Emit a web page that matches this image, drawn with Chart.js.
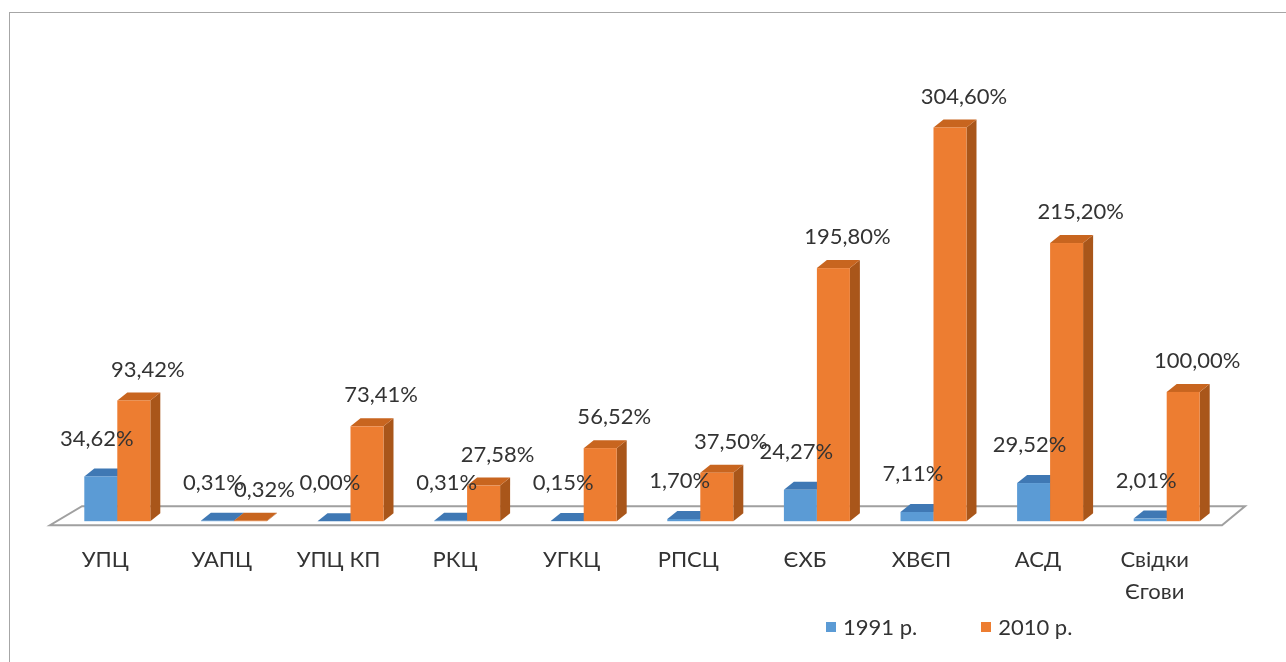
<!DOCTYPE html>
<html>
<head>
<meta charset="utf-8">
<script src="https://cdn.jsdelivr.net/npm/chart.js@4"></script>
<style>
  html, body { margin: 0; padding: 0; background: #fff; }
  #wrap { position: relative; width: 1286px; height: 662px; overflow: hidden; font-family: Lato, "Open Sans", sans-serif; }
  #frame { position: absolute; left: 9px; top: 12px; width: 1300px; height: 700px; border: 1px solid #a6a6a6; box-sizing: border-box; }
  #legend { position: absolute; left: 826px; top: 613px; display: flex; align-items: center; font-size: 22px; color: #333; }
  #legend span.box { display: inline-block; width: 10px; height: 10px; margin-right: 7px; }
  #legend span.item { display: inline-flex; align-items: center; margin-right: 64px; }
  canvas { position: absolute; left: 0; top: 0; }
</style>
</head>
<body>
<div id="wrap">
  <div id="frame"></div>
  <canvas id="c" width="1286" height="662"></canvas>
  <div id="legend"></div>
</div>
<script>
// дані
const categories = ['УПЦ', 'УАПЦ', 'УПЦ КП', 'РКЦ', 'УГКЦ', 'РПСЦ', 'ЄХБ', 'ХВЄП', 'АСД', ['Свідки', 'Єгови']];
const seriesNames = ['1991 р.', '2010 р.'];
const values1991 = [34.62, 0.31, 0.00, 0.31, 0.15, 1.70, 24.27, 7.11, 29.52, 2.01];
const values2010 = [93.42, 0.32, 73.41, 27.58, 56.52, 37.50, 195.80, 304.60, 215.20, 100.00];

const colors = {
  front: ['#5b9bd5', '#ed7d31'],
  top: ['#3f78b4', '#c8651f'],
  side: ['#3b6fa3', '#a9561a']
};

const fmt = v => v.toFixed(2).replace('.', ',') + '%';

// легенда
const legend = document.getElementById('legend');
seriesNames.forEach((n, i) => {
  const it = document.createElement('span');
  it.className = 'item';
  it.innerHTML = `<span class="box" style="background:${colors.front[i]}"></span>${n}`;
  legend.appendChild(it);
});

// 3D псевдо-об'єм
const DX = 10, DY = 8;
const bars3d = {
  id: 'bars3d',
  beforeDatasetsDraw(chart) {
    const { ctx, chartArea: a } = chart;
    const base = chart.scales.y.getPixelForValue(0);
    ctx.save();
    ctx.beginPath();
    ctx.moveTo(a.left - 9, base + 4);
    ctx.lineTo(a.right - 3, base + 4);
    ctx.lineTo(a.right + 20, base - 15);
    ctx.lineTo(a.left + 23, base - 15);
    ctx.closePath();
    ctx.fillStyle = '#ffffff';
    ctx.fill();
    ctx.strokeStyle = '#a0a0a0';
    ctx.lineWidth = 2;
    ctx.stroke();
    ctx.restore();
  },
  afterDatasetsDraw(chart) {
    const { ctx } = chart;
    ctx.save();
    [0, 1].forEach(di => {
      chart.getDatasetMeta(di).data.forEach(bar => {
        const { x, y, base, width } = bar.getProps(['x', 'y', 'base', 'width'], true);
        const l = x - width / 2, r = x + width / 2;
        // бокова грань
        ctx.fillStyle = colors.side[di];
        ctx.beginPath();
        ctx.moveTo(r, y); ctx.lineTo(r + DX, y - DY); ctx.lineTo(r + DX, base - DY); ctx.lineTo(r, base);
        ctx.closePath(); ctx.fill();
        // верх
        ctx.fillStyle = colors.top[di];
        ctx.beginPath();
        ctx.moveTo(l, y); ctx.lineTo(l + DX, y - DY); ctx.lineTo(r + DX, y - DY); ctx.lineTo(r, y);
        ctx.closePath(); ctx.fill();
        // фронт
        ctx.fillStyle = colors.front[di];
        ctx.fillRect(l, y, width, base - y);
      });
    });
    // підписи
    ctx.font = '22px Lato, "Open Sans", sans-serif';
    ctx.fillStyle = '#333';
    ctx.textAlign = 'center';
    ctx.textBaseline = 'middle';
    const off = [[-4, -38], [14, -31]];
    [0, 1].forEach(di => {
      const vals = chart.data.datasets[di].data;
      chart.getDatasetMeta(di).data.forEach((bar, i) => {
        ctx.fillText(fmt(vals[i]), bar.x + off[di][0], bar.y + off[di][1]);
      });
    });
    ctx.restore();
  }
};

new Chart(document.getElementById('c').getContext('2d'), {
  type: 'bar',
  data: {
    labels: categories,
    datasets: [
      { label: seriesNames[0], data: values1991, backgroundColor: 'rgba(0,0,0,0)' },
      { label: seriesNames[1], data: values2010, backgroundColor: 'rgba(0,0,0,0)' }
    ]
  },
  options: {
    responsive: false,
    animation: false,
    devicePixelRatio: 1,
    layout: { padding: { left: 59, right: 61, top: 30, bottom: 31 } },
    datasets: { bar: { categoryPercentage: 0.566, barPercentage: 1 } },
    plugins: { legend: { display: false }, tooltip: { enabled: false } },
    scales: {
      y: { display: false, min: 0, max: 380 },
      x: {
        grid: { display: false, drawTicks: false },
        border: { display: false },
        ticks: {
          color: '#333',
          padding: 23,
          labelOffset: -12,
          maxRotation: 0,
          autoSkip: false,
          font: { family: 'Lato, "Open Sans", sans-serif', size: 22, lineHeight: 1.45 }
        }
      }
    }
  },
  plugins: [bars3d]
});
</script>
</body>
</html>
